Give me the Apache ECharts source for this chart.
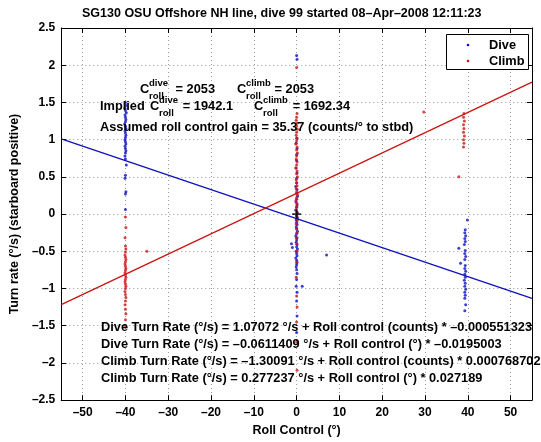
<!DOCTYPE html>
<html><head><meta charset="utf-8">
<script src="https://cdn.jsdelivr.net/npm/echarts@6/dist/echarts.min.js"></script>
<style>html,body{margin:0;padding:0;background:#fff}#c{width:541px;height:442px}</style>
</head><body><div id="c"></div>
<script>
const chartTitle = 'SG130 OSU Offshore NH line, dive 99 started 08–Apr–2008 12:11:23';
const xTicks = [-50, -40, -30, -20, -10, 0, 10, 20, 30, 40, 50];
const yTicks = [-2.5, -2, -1.5, -1, -0.5, 0, 0.5, 1, 1.5, 2, 2.5];
const xName = 'Roll Control (°)';
const yName = 'Turn rate (°/s) (starboard positive)';
const legendNames = ['Dive', 'Climb'];

const diveLeft = [[-40.0,1.50],[-39.9,1.46],[-40.1,1.42],[-40.0,1.39],[-39.8,1.36],[-40.1,1.33],[-40.0,1.30],[-39.9,1.27],[-40.0,1.24],[-40.2,1.21],[-40.0,1.18],[-39.9,1.15],[-40.1,1.12],[-40.0,1.09],[-39.9,1.06],[-40.0,1.03],[-40.1,1.00],[-40.0,0.97],[-39.9,0.94],[-40.1,0.91],[-40.0,0.88],[-39.9,0.85],[-40.0,0.82],[-40.1,0.78],[-40.0,0.74],[-39.8,0.66],[-40.0,0.52],[-40.1,0.48],[-39.9,0.30],[-40.0,0.27],[-40.0,0.06]];
const diveMid = [[0.0,2.13],[0.1,2.08],[0.0,1.02],[-0.1,0.95],[0.1,0.88],[0.0,0.80],[0.0,0.72],[-0.1,0.62],[0.1,0.55],[0.0,0.48],[0.0,0.42],[-0.2,0.37],[0.1,0.33],[0.0,0.28],[0.2,0.24],[0.0,0.20],[-0.1,0.16],[0.1,0.12],[0.0,0.09],[-0.2,0.05],[0.1,0.02],[0.0,-0.02],[0.2,-0.05],[-0.1,-0.08],[0.0,-0.11],[0.1,-0.14],[-0.1,-0.17],[0.0,-0.20],[0.2,-0.23],[0.0,-0.26],[-0.2,-0.29],[0.1,-0.32],[0.0,-0.35],[-0.1,-0.38],[0.1,-0.41],[0.0,-0.44],[0.2,-0.47],[-0.1,-0.50],[0.0,-0.53],[0.1,-0.56],[-0.2,-0.59],[0.0,-0.62],[0.1,-0.65],[0.0,-0.68],[-0.1,-0.71],[0.0,-0.75],[0.1,-0.80],[0.0,-0.88],[-0.1,-0.97],[0.1,-1.05],[0.0,-1.17],[0.1,-1.37],[0.0,-1.59],[-1.2,-0.40],[1.3,-0.97],[7.0,-0.55],[-1.0,-0.45]];
const diveRight = [[39.9,-0.08],[39.4,-0.21],[39.3,-0.25],[39.5,-0.29],[39.3,-0.33],[39.4,-0.37],[39.2,-0.41],[37.9,-0.46],[39.4,-0.49],[39.3,-0.53],[39.5,-0.57],[39.3,-0.61],[38.3,-0.66],[39.4,-0.69],[39.3,-0.73],[39.5,-0.77],[39.3,-0.81],[39.4,-0.85],[39.2,-0.89],[39.4,-0.93],[39.3,-0.97],[39.5,-1.01],[39.3,-1.05],[39.4,-1.09],[39.3,-1.13],[39.5,-1.22],[39.3,-1.30]];

const climbLeft = [[-40.0,-0.04],[-39.9,-0.18],[-40.1,-0.32],[-40.0,-0.43],[-39.9,-0.47],[-40.0,-0.51],[-40.1,-0.55],[-40.0,-0.58],[-39.9,-0.61],[-40.0,-0.64],[-40.1,-0.67],[-40.0,-0.70],[-39.9,-0.73],[-40.0,-0.76],[-40.1,-0.79],[-40.0,-0.82],[-39.9,-0.85],[-40.0,-0.88],[-40.1,-0.91],[-40.0,-0.94],[-39.9,-0.97],[-40.0,-1.00],[-40.1,-1.04],[-40.0,-1.08],[-39.9,-1.12],[-40.0,-1.17],[-40.1,-1.22],[-40.0,-1.28],[-39.9,-1.34],[-40.0,-1.42],[-40.0,-1.50],[-35.0,-0.50]];
const climbMid = [[0.0,1.97],[0.1,1.35],[0.0,1.30],[-0.1,1.26],[0.1,1.22],[0.0,1.18],[0.2,1.14],[0.0,1.10],[-0.1,1.06],[0.1,1.02],[0.0,0.98],[-0.2,0.94],[0.1,0.90],[0.0,0.86],[0.2,0.82],[0.0,0.78],[-0.1,0.74],[0.1,0.70],[0.0,0.66],[-0.2,0.62],[0.1,0.58],[0.0,0.54],[0.2,0.50],[-0.1,0.46],[0.0,0.42],[0.1,0.38],[-0.1,0.34],[0.0,0.30],[0.2,0.26],[0.0,0.22],[-0.2,0.18],[0.1,0.14],[0.0,0.10],[-0.1,0.06],[0.1,0.02],[0.0,-0.03],[0.2,-0.08],[-0.1,-0.13],[0.0,-0.19],[0.1,-0.25],[-0.1,-0.32],[0.0,-0.40],[0.1,-0.50],[0.0,-0.65],[-0.1,-0.85],[0.0,-1.10],[0.1,-1.25],[0.0,-1.45],[0.0,-1.72],[0.1,-2.10]];
const climbRight = [[29.7,1.37],[39.1,1.35],[39.0,1.30],[39.2,1.25],[39.0,1.20],[39.1,1.15],[39.0,1.10],[39.2,1.05],[39.0,1.00],[39.1,0.95],[39.0,0.90],[37.9,0.50]];

const diveFit = [[-55, 1.0114], [55, -1.1336]];
const climbFit = [[-55, -1.2182], [55, 1.7726]];
const originMark = [[0, 0]];

const fitText = [
  'Dive Turn Rate (°/s) = 1.07072 °/s + Roll control (counts) * –0.000551323',
  'Dive Turn Rate (°/s) = –0.0611409 °/s + Roll control (°) * –0.0195003',
  'Climb Turn Rate (°/s) = –1.30091 °/s + Roll control (counts) * 0.000768702',
  'Climb Turn Rate (°/s) = 0.277237 °/s + Roll control (°) * 0.027189'
];
const gainText = 'Assumed roll control gain = 35.37 (counts/° to stbd)';

const BLUE = '#1010c0', RED = '#cc1515';
const FF = '"Liberation Sans", Arial, Helvetica, sans-serif';
const F = (s) => 'bold ' + s + 'px ' + FF;
const dash = v => String(v).replace('-', '–');

function txt(x, y, t, size, align) {
  return { type: 'text', x: x, y: y, z: 100,
    style: { text: t, font: F(size), fill: '#000', align: align || 'left', verticalAlign: 'middle' } };
}
function cterm(x, y, sup, val, valRight) {
  return [
    txt(x, y, 'C', 12.8),
    txt(x + 9, y - 6, sup, 9.5),
    txt(x + 9, y + 7, 'roll', 9.5),
    txt(valRight, y, val, 12.8, 'right')
  ];
}

const graphics = [].concat(
  cterm(140, 89, 'dive', '= 2053', 215),
  cterm(237, 89, 'climb', '= 2053', 314),
  [txt(100, 106, 'Implied', 12.8)],
  cterm(150, 106, 'dive', '= 1942.1', 233),
  cterm(254, 106, 'climb', '= 1692.34', 350),
  [txt(100, 127, gainText, 12.8)],
  fitText.map((t, i) => txt(101, 327 + i * 17, t, 12.8)),
  [
    { type: 'rect', z: 100, shape: { x: 446.5, y: 34.5, width: 82, height: 35 }, style: { fill: '#fff', stroke: '#000', lineWidth: 1 } },
    { type: 'circle', z: 101, shape: { cx: 468, cy: 45, r: 1.3 }, style: { fill: BLUE } },
    { type: 'circle', z: 101, shape: { cx: 468, cy: 61, r: 1.3 }, style: { fill: RED } },
    txt(489, 45, legendNames[0], 12.8),
    txt(489, 61, legendNames[1], 12.8)
  ]
);

const axisCommon = {
  axisLine: { show: true, onZero: false, lineStyle: { color: '#000', width: 1 } },
  axisTick: { show: true, inside: true, length: 5, lineStyle: { color: '#000' } }
};

const chart = echarts.init(document.getElementById('c'), null, { renderer: 'canvas' });
chart.setOption({
  animation: false,
  backgroundColor: '#fff',
  title: { text: chartTitle, left: 82, top: 7, padding: 0,
    textStyle: { fontFamily: FF, fontWeight: 'bold', fontSize: 12.5, color: '#000' } },
  grid: { left: 53, top: 28, right: 9, bottom: 36, containLabel: false },
  xAxis: [
    Object.assign({}, axisCommon, {
      type: 'value', min: -55, max: 55, position: 'bottom',
      axisTick: Object.assign({}, axisCommon.axisTick, { customValues: xTicks }),
      axisLabel: { customValues: xTicks, formatter: dash, margin: 7, color: '#000', fontFamily: FF, fontWeight: 'bold', fontSize: 12 },
      splitLine: { show: true, lineStyle: { color: '#999', type: [1, 3], width: 1 } },
      name: xName, nameLocation: 'middle', nameGap: 21,
      nameTextStyle: { fontFamily: FF, fontWeight: 'bold', fontSize: 12.5, color: '#000' }
    }),
    Object.assign({}, axisCommon, {
      type: 'value', min: -55, max: 55, position: 'top',
      axisTick: Object.assign({}, axisCommon.axisTick, { customValues: xTicks }),
      axisLabel: { show: false }, splitLine: { show: false }
    })
  ],
  yAxis: [
    Object.assign({}, axisCommon, {
      type: 'value', min: -2.5, max: 2.5, interval: 0.5, position: 'left',
      axisLabel: { formatter: dash, margin: 6, color: '#000', fontFamily: FF, fontWeight: 'bold', fontSize: 12 },
      splitLine: { show: true, lineStyle: { color: '#999', type: [1, 3], width: 1 } },
      name: yName, nameLocation: 'middle', nameGap: 36,
      nameTextStyle: { fontFamily: FF, fontWeight: 'bold', fontSize: 12.5, color: '#000' }
    }),
    Object.assign({}, axisCommon, {
      type: 'value', min: -2.5, max: 2.5, interval: 0.5, position: 'right',
      axisLabel: { show: false }, splitLine: { show: false }
    })
  ],
  series: [
    { name: 'Dive', type: 'scatter', data: diveLeft.concat(diveMid, diveRight), symbol: 'circle', symbolSize: 3, itemStyle: { color: BLUE }, z: 3 },
    { name: 'Climb', type: 'scatter', data: climbLeft.concat(climbMid, climbRight), symbol: 'circle', symbolSize: 3, itemStyle: { color: RED }, z: 4 },
    { type: 'line', data: diveFit, showSymbol: false, symbol: 'none', lineStyle: { color: BLUE, width: 1.3 }, z: 5 },
    { type: 'line', data: climbFit, showSymbol: false, symbol: 'none', lineStyle: { color: RED, width: 1.3 }, z: 5 },
    { type: 'scatter', data: originMark, symbol: 'path://M4,0H6V10H4Z M0,4H10V6H0Z', symbolSize: 9, itemStyle: { color: '#000' }, z: 6 }
  ],
  graphic: graphics
});
</script>
</body></html>
